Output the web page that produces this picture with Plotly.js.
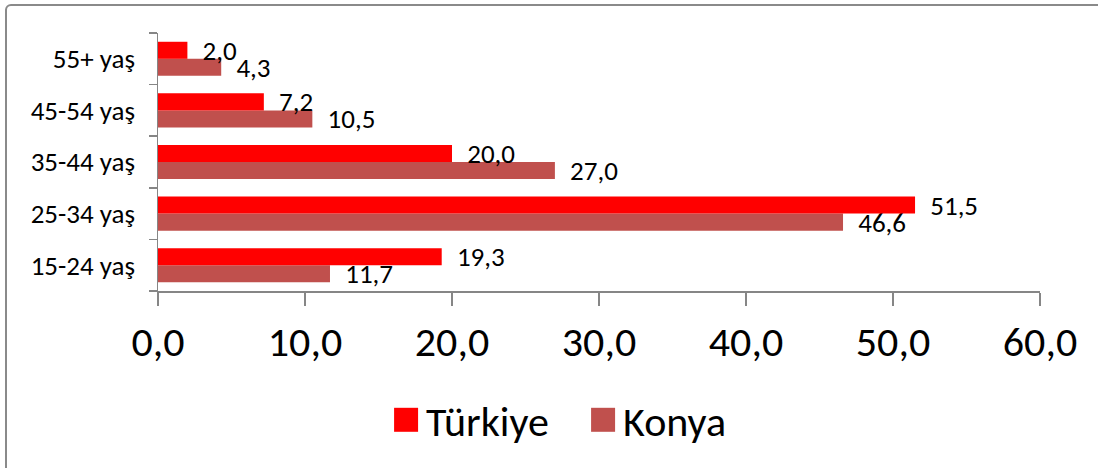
<!DOCTYPE html>
<html>
<head>
<meta charset="utf-8">
<script src="https://cdn.plot.ly/plotly-3.0.1.min.js"></script>
<style>
  html, body { margin: 0; padding: 0; background: #fff; overflow: hidden; }
  #chart { width: 1098px; height: 468px; position: absolute; left: 0; top: 0; }
  #frame { position: absolute; left: 5px; top: 4px; width: 1200px; height: 600px;
           border: 2px solid #8a8a8a; border-radius: 6px; pointer-events: none; box-sizing: border-box; }
</style>
</head>
<body>
<div id="chart"></div>
<div id="frame"></div>
<script>
const categories = ['15-24 yaş', '25-34 yaş', '35-44 yaş', '45-54 yaş', '55+ yaş'];
const turkiye = [19.3, 51.5, 20.0, 7.2, 2.0];
const konya = [11.7, 46.6, 27.0, 10.5, 4.3];
const xTicks = [0, 10, 20, 30, 40, 50, 60];

const FONT = 'Carlito, Lato, "DejaVu Sans", sans-serif';
const pad = '\u00a0\u00a0';

const common = {
  type: 'bar',
  orientation: 'h',
  y: categories,
  textposition: 'outside',
  texttemplate: pad + '%{x:.1f}',
  textfont: { family: FONT, size: 27, color: '#000' },
  constraintext: 'none',
  cliponaxis: false,
  hoverinfo: 'x+y+name'
};

const data = [
  Object.assign({}, common, { name: 'Konya', x: konya, marker: { color: '#C0504D' } }),
  Object.assign({}, common, { name: 'Türkiye', x: turkiye, marker: { color: '#FF0000' } })
];

const layout = {
  width: 1098,
  height: 468,
  margin: { l: 158, r: 58, t: 33, b: 177 },
  paper_bgcolor: '#fff',
  plot_bgcolor: '#fff',
  separators: ', ',
  barmode: 'group',
  bargap: 0.34,
  bargroupgap: 0,
  font: { family: FONT, color: '#000' },
  showlegend: true,
  legend: {
    orientation: 'h',
    x: 0.2586, xanchor: 'left',
    y: -0.50, yanchor: 'middle',
    traceorder: 'reversed',
    font: { family: FONT, size: 42, color: '#000' },
    itemwidth: 30,
    entrywidth: 152
  },
  xaxis: {
    range: [0, 60],
    tickvals: xTicks,
    tickformat: '.1f',
    ticks: 'outside',
    ticklen: 13,
    tickcolor: '#868686',
    tickwidth: 1.5,
    showline: true,
    linecolor: '#868686',
    linewidth: 1.5,
    showgrid: false,
    zeroline: false,
    tickfont: { family: FONT, size: 42, color: '#000' },
    fixedrange: true
  },
  yaxis: {
    type: 'category',
    ticks: 'outside',
    tickson: 'boundaries',
    ticklen: 8,
    tickcolor: '#868686',
    tickwidth: 1.5,
    showline: true,
    linecolor: '#868686',
    linewidth: 1.5,
    showgrid: false,
    zeroline: false,
    ticklabelstandoff: 16,
    tickfont: { family: FONT, size: 27, color: '#000' },
    fixedrange: true
  }
};

Plotly.newPlot('chart', data, layout, { displayModeBar: false, staticPlot: true }).then(function (gd) {
  gd.querySelectorAll('.legend .legendpoints path').forEach(function (p) {
    const t = p.getAttribute('transform') || '';
    p.setAttribute('transform', t + ' scale(2)');
  });
});
</script>
</body>
</html>
